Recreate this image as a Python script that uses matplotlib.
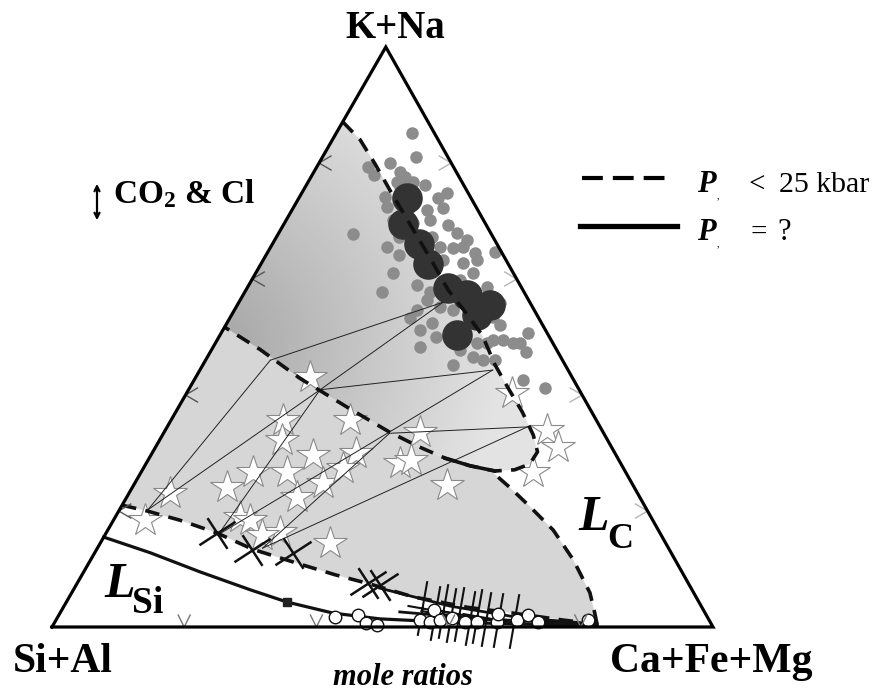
import numpy as np
import matplotlib
matplotlib.use("Agg")
import matplotlib.pyplot as plt
from matplotlib.path import Path
from matplotlib.patches import Polygon, FancyArrowPatch
from matplotlib.markers import MarkerStyle
from matplotlib.transforms import Affine2D
from matplotlib.lines import Line2D

plt.rcParams['font.family'] = ['Liberation Serif', 'DejaVu Serif']
plt.rcParams['mathtext.fontset'] = 'custom'
plt.rcParams['mathtext.rm'] = 'Liberation Serif:bold'
plt.rcParams['mathtext.bf'] = 'Liberation Serif:bold'
plt.rcParams['mathtext.it'] = 'Liberation Serif:bold:italic'
plt.rcParams['mathtext.default'] = 'bf'

# ---------------- data (mole fractions: K+Na, Ca+Fe+Mg; Si+Al = rest) -------------
apices = ["K+Na", "Si+Al", "Ca+Fe+Mg"]

gray_kna = [0.852,0.810,0.800,0.793,0.779,0.784,0.776,0.767,0.762,0.741,
            0.724,0.740,0.719,0.722,0.702,0.693,0.679,0.678,0.655,0.641,
            0.655,0.653,0.655,0.645,0.647,0.628,0.610,0.610,0.578,0.590,
            0.564,0.533,0.512,0.524,0.483,0.500,0.586,0.521,0.495,0.495,
            0.507,0.490,0.474,0.466,0.460,0.452,0.460,0.426,0.412,0.578,
            0.552,0.547,0.547,0.616,0.593,0.598,0.672,0.697,0.672,0.633,
            0.748,0.759,0.767,0.719,0.702,0.667,0.633,0.559,0.559,0.534,
            0.490,0.490,0.478,0.490]
gray_cfm = [0.115,0.142,0.107,0.078,0.093,0.130,0.142,0.159,0.179,0.130,
            0.141,0.210,0.204,0.227,0.218,0.249,0.270,0.113,0.176,0.202,
            0.256,0.277,0.291,0.314,0.343,0.305,0.329,0.208,0.207,0.254,
            0.282,0.273,0.298,0.311,0.313,0.329,0.362,0.415,0.417,0.432,
            0.464,0.461,0.477,0.402,0.420,0.379,0.438,0.498,0.538,0.280,
            0.308,0.331,0.276,0.265,0.299,0.315,0.186,0.194,0.236,0.272,
            0.220,0.143,0.135,0.176,0.162,0.291,0.323,0.350,0.396,0.397,
            0.450,0.411,0.376,0.396]

big_kna = [0.740,0.695,0.660,0.626,0.584,0.572,0.555,0.538,0.503]
big_cfm = [0.163,0.180,0.222,0.253,0.304,0.339,0.383,0.372,0.359]

star_kna = [0.431,0.357,0.336,0.357,0.322,0.297,0.267,0.267,0.241,0.224,
            0.248,0.300,0.274,0.283,0.288,0.245,0.190,0.184,0.231,0.184,
            0.145,0.164,0.159,0.403,0.267,0.340,0.310]
star_cfm = [0.172,0.271,0.387,0.169,0.185,0.245,0.169,0.221,0.143,0.258,
            0.285,0.309,0.302,0.383,0.397,0.474,0.188,0.207,0.062,0.048,
            0.348,0.262,0.238,0.493,0.593,0.577,0.609]

# tie-line end members
tie_pts = {"A": (0.202, 0.043), "B": (0.460, 0.098), "C": (0.409, 0.199),
           "D": (0.159, 0.171), "E": (0.443, 0.443), "F": (0.136, 0.250),
           "G": (0.334, 0.342), "H": (0.345, 0.545), "I": (0.560, 0.309)}
tie_pairs = [("A","B"),("A","C"),("D","C"),("D","E"),("F","G"),
             ("F","H"),("B","I"),("C","I"),("C","E"),("G","H")]

xup_kna = [0.162,0.133,0.128,0.076,0.072]
xup_cfm = [0.168,0.236,0.300,0.440,0.460]
xlo_kna = [0.033,0.024,0.027,0.020,0.022,0.015,0.019,0.014,0.012,0.010]
xlo_cfm = [0.543,0.568,0.578,0.593,0.604,0.625,0.634,0.649,0.669,0.694]

circ_kna = [0.017,0.021,0.007,0.003,0.012,0.009,0.029,0.012,0.016,0.009,
            0.009,0.009,0.022,0.012,0.021,0.009,0.012]
circ_cfm = [0.419,0.453,0.471,0.490,0.551,0.567,0.564,0.581,0.597,0.620,
            0.639,0.668,0.664,0.697,0.709,0.730,0.805]

sq_kna = [0.043]
sq_cfm = [0.334]

# phase boundaries
upper_kna = [0.871,0.840,0.797,0.753,0.710,0.671,0.628,0.581,0.543,0.503,
             0.452,0.412,0.371,0.331,0.302,0.281,0.271,0.269,0.278,0.291,
             0.310,0.336,0.376,0.429,0.478,0.517]
upper_cfm = [0.0,0.042,0.087,0.131,0.175,0.215,0.259,0.306,0.351,0.397,
             0.442,0.482,0.524,0.561,0.582,0.581,0.563,0.534,0.492,0.448,
             0.400,0.341,0.261,0.158,0.074,0.0]
lower_kna = [0.210,0.200,0.184,0.162,0.134,0.110,0.090,0.074,0.052,0.034,0.024,0.012,0.005]
lower_cfm = [0.0,0.043,0.101,0.168,0.236,0.315,0.383,0.444,0.520,0.611,0.685,0.767,0.822]
right_kna = [0.005,0.024,0.059,0.116,0.167,0.207,0.240,0.266]
right_cfm = [0.822,0.809,0.784,0.730,0.674,0.619,0.572,0.533]
lsi_kna = [0.155,0.128,0.095,0.064,0.043,0.024,0.014,0.009,0.005,0.003]
lsi_cfm = [0.0,0.084,0.176,0.268,0.334,0.413,0.489,0.583,0.705,0.823]
sol2_kna = [0.067,0.036,0.016,0.005]
sol2_cfm = [0.462,0.584,0.700,0.822]
sol3_kna = [0.026,0.014,0.005]
sol3_cfm = [0.513,0.640,0.822]

tick_fracs = [0.2, 0.4, 0.6, 0.8]

# ---------------- figure set-up ----------------
W, H = 879, 691
X0, Y0, TW, TH = 52, 627, 661, 580   # triangle frame in pixels
APEX = 0.505

fig = plt.figure(figsize=(W/100, H/100), dpi=100)
ax = fig.add_axes([X0/W, 1 - Y0/H, TW/W, TH/H])
ax.set_xlim(0, 1)
ax.set_ylim(0, 1)
ax.axis('off')

def tern(kna, cfm):
    kna = np.asarray(kna, float)
    cfm = np.asarray(cfm, float)
    return cfm + APEX * kna, kna

def ftxt(px, py, s, **kw):
    return fig.text(px / W, 1 - py / H, s, **kw)

# ---------------- fields ----------------
lx, ly = tern(lower_kna, lower_cfm)
rx, ry = tern(right_kna, right_cfm)
ux, uy = tern(upper_kna, upper_cfm)
low_poly = np.vstack([
    np.column_stack([ux[-1:], uy[-1:]]),
    np.column_stack([lx, ly]),
    np.column_stack([rx[1:], ry[1:]]),
    np.column_stack([ux[17:], uy[17:]]),
])
ax.add_patch(Polygon(low_poly, closed=True, facecolor='#d6d6d6', edgecolor='none', zorder=1))

up_poly = np.column_stack([ux, uy])
clip = Polygon(up_poly, closed=True, facecolor='none', edgecolor='none', zorder=1.5)
ax.add_patch(clip)
gx, gy = np.meshgrid(np.linspace(0, 1, 500), np.linspace(0, 1, 500))
ppx = X0 + TW * gx
ppy = Y0 - TH * gy
dist = np.hypot(ppx - 215, ppy - 340)
shade = 0.65 + 0.24 * np.clip(dist / 290.0, 0, 1)
im = ax.imshow(shade, extent=[0, 1, 0, 1], origin='lower', cmap='gray',
               vmin=0, vmax=1, aspect='auto', zorder=1.5, interpolation='bilinear')
im.set_clip_path(clip)

# ---------------- symbols ----------------
sx, sy = tern(star_kna, star_cfm)
ax.plot(sx, sy, ls='none', marker='*', markersize=25, mfc='white', mec='#8a8a8a',
        mew=0.8, zorder=3, clip_on=False)

gx_, gy_ = tern(gray_kna, gray_cfm)
ax.plot(gx_, gy_, ls='none', marker='o', markersize=9, mfc='#8c8c8c', mec='none', zorder=3.2)
bx, by = tern(big_kna, big_cfm)
ax.plot(bx, by, ls='none', marker='o', markersize=22, mfc='#333333', mec='none', zorder=3.4)

for a, b in tie_pairs:
    ka, ca = tie_pts[a]
    kb, cb = tie_pts[b]
    tx, ty = tern([ka, kb], [ca, cb])
    ax.plot(tx, ty, color='#222222', lw=0.7, zorder=4)

# boundaries
ax.plot(ux, uy, color='#111111', lw=2.6, ls=(0, (4, 2.6)), zorder=5, solid_capstyle='butt')
ax.plot(ux[17:20], uy[17:20], color='#111111', lw=2.6, zorder=5)
ax.plot(lx, ly, color='#111111', lw=2.6, ls=(0, (4, 2.6)), zorder=5, clip_on=False)
ax.plot(rx, ry, color='#111111', lw=2.6, ls=(0, (4, 2.6)), zorder=5, clip_on=False)
lsx, lsy = tern(lsi_kna, lsi_cfm)
ax.plot(lsx, lsy, color='#111111', lw=2.3, zorder=5, clip_on=False)
s2x, s2y = tern(sol2_kna, sol2_cfm)
ax.plot(s2x, s2y, color='#111111', lw=2.0, zorder=5, clip_on=False)
s3x, s3y = tern(sol3_kna, sol3_cfm)
ax.plot(s3x, s3y, color='#111111', lw=2.0, zorder=5, clip_on=False)

def cross(angle, a=1.0, b=1.0):
    p = Path([(-a, 0), (a, 0), (0, -b), (0, b)],
             [Path.MOVETO, Path.LINETO, Path.MOVETO, Path.LINETO])
    return MarkerStyle(p, transform=Affine2D().rotate_deg(angle))

cx, cy = tern(xup_kna, xup_cfm)
ax.plot(cx, cy, ls='none', marker=cross(33, 1.0, 0.85), markersize=31,
        mfc='none', mec='#111111', mew=1.8, zorder=6)
cx2, cy2 = tern(xlo_kna, xlo_cfm)
ax.plot(cx2, cy2, ls='none', marker=cross(-10, 0.55, 1.0), markersize=40,
        mfc='none', mec='#111111', mew=1.5, zorder=6, clip_on=False)

ox, oy = tern(circ_kna, circ_cfm)
ax.plot(ox, oy, ls='none', marker='o', markersize=9, mfc='white', mec='#111111',
        mew=1.0, zorder=6.5, clip_on=False)
qx, qy = tern(sq_kna, sq_cfm)
ax.plot(qx, qy, ls='none', marker='s', markersize=6, mfc='#222222', mec='#222222', zorder=6.5)

# ---------------- frame & ticks ----------------
fx, fy = tern([0, 0, 1, 0], [0, 1, 0, 0])
ax.plot(fx, fy, color='black', lw=2.3, zorder=8, solid_joinstyle='miter', clip_on=False)

def chevron(x, y, d1, d2, color):
    p1 = (x + d1[0] / TW, y - d1[1] / TH)
    p2 = (x + d2[0] / TW, y - d2[1] / TH)
    ax.plot([p1[0], x, p2[0]], [p1[1], y, p2[1]], color=color, lw=1.0, zorder=7,
            clip_on=False)

for t in tick_fracs:
    x, y = tern([t], [0.0])
    chevron(x[0], y[0], (12, -7), (12, 7), '#555555')
    x, y = tern([t], [1 - t])
    chevron(x[0], y[0], (-12, -7), (-12, 7), '#b5b5b5')
    x, y = tern([0.0], [t])
    chevron(x[0], y[0], (-6, -12), (6, -12), '#777777')

# ---------------- texts ----------------
ftxt(395, 38, apices[0], ha='center', va='baseline', fontsize=28, fontweight='bold')
ftxt(63, 672, apices[1], ha='center', va='baseline', fontsize=30, fontweight='bold')
ftxt(711, 672, apices[2], ha='center', va='baseline', fontsize=30, fontweight='bold')
ftxt(403, 685, 'mole ratios', ha='center', va='baseline', fontsize=22,
     fontweight='bold', fontstyle='italic')

ftxt(113, 203, r'CO$_2$ & Cl', ha='left', va='baseline', fontsize=24, fontweight='bold')
fig.add_artist(FancyArrowPatch((97 / W, 1 - 181 / H), (97 / W, 1 - 223 / H),
                               transform=fig.transFigure, arrowstyle='<->',
                               mutation_scale=9, lw=1.6, color='black'))

ftxt(578, 530, 'L', ha='left', va='baseline', fontsize=36, fontweight='bold', fontstyle='italic')
ftxt(607, 548, 'C', ha='left', va='baseline', fontsize=26, fontweight='bold')
ftxt(104, 597, 'L', ha='left', va='baseline', fontsize=36, fontweight='bold', fontstyle='italic')
ftxt(132, 613, 'Si', ha='left', va='baseline', fontsize=27, fontweight='bold')

# legend
fig.add_artist(Line2D([582 / W, 668 / W], [1 - 178 / H, 1 - 178 / H], transform=fig.transFigure,
                      color='black', lw=3.0, ls=(0, (5, 2.4))))
fig.add_artist(Line2D([580 / W, 677 / W], [1 - 226 / H, 1 - 226 / H], transform=fig.transFigure,
                      color='black', lw=3.8))
ftxt(697, 192, 'P', ha='left', va='baseline', fontsize=22, fontweight='bold', fontstyle='italic')
ftxt(717, 198, ',', ha='left', va='baseline', fontsize=7)
ftxt(757, 192, '<', ha='center', va='baseline', fontsize=21)
ftxt(779, 192, '25 kbar', ha='left', va='baseline', fontsize=21.5)
ftxt(697, 240, 'P', ha='left', va='baseline', fontsize=22, fontweight='bold', fontstyle='italic')
ftxt(717, 246, ',', ha='left', va='baseline', fontsize=7)
ftxt(759, 240, '=', ha='center', va='baseline', fontsize=21)
ftxt(777, 240, '?', ha='left', va='baseline', fontsize=22)

fig.savefig('out.png', dpi=100, facecolor='white')
